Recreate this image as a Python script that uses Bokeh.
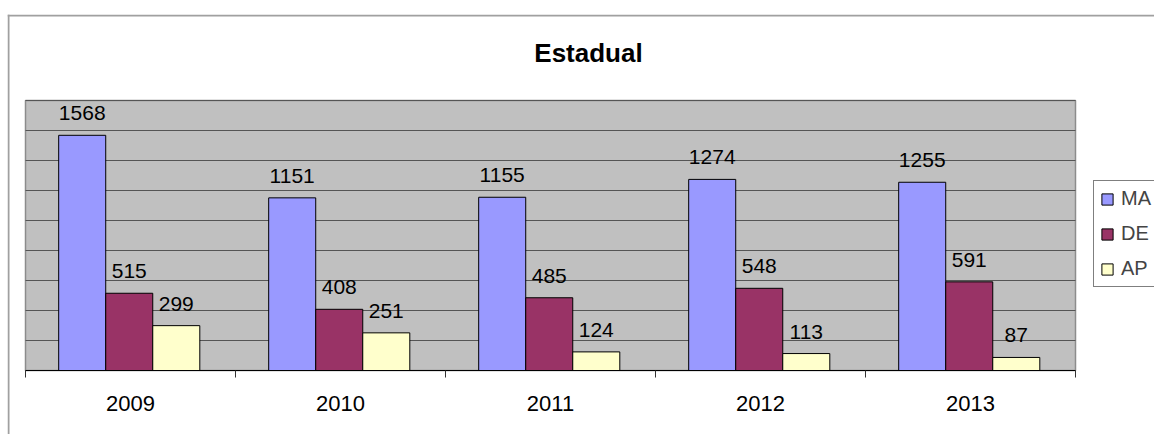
from bokeh.plotting import figure
from bokeh.models import Range1d, FixedTicker, Legend, LegendItem, ColumnDataSource, Label, Span
from bokeh.embed import file_html
from bokeh.resources import INLINE
from bokeh.core.properties import value

# ---- data ----
years = ["2009", "2010", "2011", "2012", "2013"]
ma = [1568, 1151, 1155, 1274, 1255]
de = [515, 408, 485, 548, 591]
ap = [299, 251, 124, 113, 87]
series_names = ["MA", "DE", "AP"]
series_values = [ma, de, ap]
colors = ["#9999FF", "#993366", "#FFFFCC"]
y_max = 1800
y_step = 200
title_text = "Estadual"

FONT = "Liberation Sans"
BAR_W = 0.224
GROUP_SHIFT = -0.006
offsets = [-BAR_W + GROUP_SHIFT, GROUP_SHIFT, BAR_W + GROUP_SHIFT]

# layout (pixels)
W, H = 1154, 434
CV_L, CV_T = 7, 14             # frame start (just before the outer border)
BD_X, BD_Y = 8, 15             # outer chart border lines
PA_L, PA_R = 25, 1075          # plot area x extent
PA_T, PA_B = 100, 370          # plot area y extent

n = len(years)
px_per_x = (PA_R - PA_L) / n
x_lo = -0.5 - (PA_L - CV_L) / px_per_x
x_hi = (n - 0.5) + (W - PA_R) / px_per_x
px_per_y = (PA_B - PA_T) / y_max
y_lo = -(H - PA_B) / px_per_y
y_hi = y_max + (PA_T - CV_T) / px_per_y

p = figure(width=W, height=H, output_backend="svg", toolbar_location=None,
           title_location=None, y_axis_location=None,
           x_range=Range1d(x_lo, x_hi), y_range=Range1d(y_lo, y_hi),
           min_border_left=CV_L, min_border_right=0, min_border_top=CV_T, min_border_bottom=0)

p.background_fill_color = "white"
p.border_fill_color = "white"
p.outline_line_color = None
for g in p.grid:
    g.visible = False

# outer chart border (left and top visible; the rest lies outside the picture)
p.add_layout(Span(location=-0.5 - (PA_L - BD_X) / px_per_x, dimension="height",
                  line_color="#a0a0a0", line_width=2))
p.add_layout(Span(location=y_max + (PA_T - BD_Y) / px_per_y, dimension="width",
                  line_color="#a0a0a0", line_width=2))

# plot area background
p.quad(left=-0.5, right=n - 0.5, bottom=0, top=y_max,
       fill_color="#C0C0C0", line_color="#8c8c8c", line_width=1.5)
# horizontal gridlines
grid_vals = list(range(0, y_max + 1, y_step))
p.segment(x0=[-0.5] * len(grid_vals), x1=[n - 0.5] * len(grid_vals),
          y0=grid_vals, y1=grid_vals, line_color="#555555", line_width=1)

# x axis: labels at category centers, ticks at category boundaries
idx = list(range(n))
ax = p.xaxis[0]
ax.fixed_location = 0
ax.bounds = (-0.5, n - 0.5)
ax.ticker = FixedTicker(ticks=idx, minor_ticks=[i - 0.5 for i in range(n + 1)])
ax.major_label_overrides = {i: y for i, y in zip(idx, years)}
ax.major_tick_out = 0
ax.major_tick_in = 0
ax.minor_tick_out = 7
ax.minor_tick_in = 0
ax.minor_tick_line_color = "#333333"
ax.axis_line_color = "black"
ax.major_label_text_font = FONT
ax.major_label_text_font_size = "22px"
ax.major_label_text_color = "black"
ax.major_label_standoff = 18

items = []
for name, vals, off, col in zip(series_names, series_values, offsets, colors):
    src = ColumnDataSource(dict(x=[i + off for i in idx], top=vals, label=[str(v) for v in vals]))
    r = p.vbar(x="x", top="top", width=BAR_W, bottom=0, source=src,
               fill_color=col, line_color="black", line_width=1)
    p.text(x="x", y="top", text="label", source=src, text_align="center",
           text_baseline="alphabetic", y_offset=-22, text_font=value(FONT),
           text_font_size="21px", text_color="black")
    items.append(LegendItem(label=name, renderers=[r]))

legend = Legend(items=items, location=(1093 - CV_L, H - 287), margin=0, padding=6, spacing=12,
                glyph_width=14, glyph_height=14, label_height=22, label_standoff=7,
                label_text_font=FONT, label_text_font_size="20px",
                border_line_color="black", border_line_width=1,
                background_fill_color="white", background_fill_alpha=1)
p.add_layout(legend, "center")

title = Label(x=588 - CV_L, y=H - 52, x_units="screen", y_units="screen", text=title_text,
              text_align="center", text_baseline="middle", text_font=FONT,
              text_font_size="26px", text_font_style="bold", text_color="black")
p.add_layout(title)

open("out.html", "w").write(file_html(p, INLINE))
